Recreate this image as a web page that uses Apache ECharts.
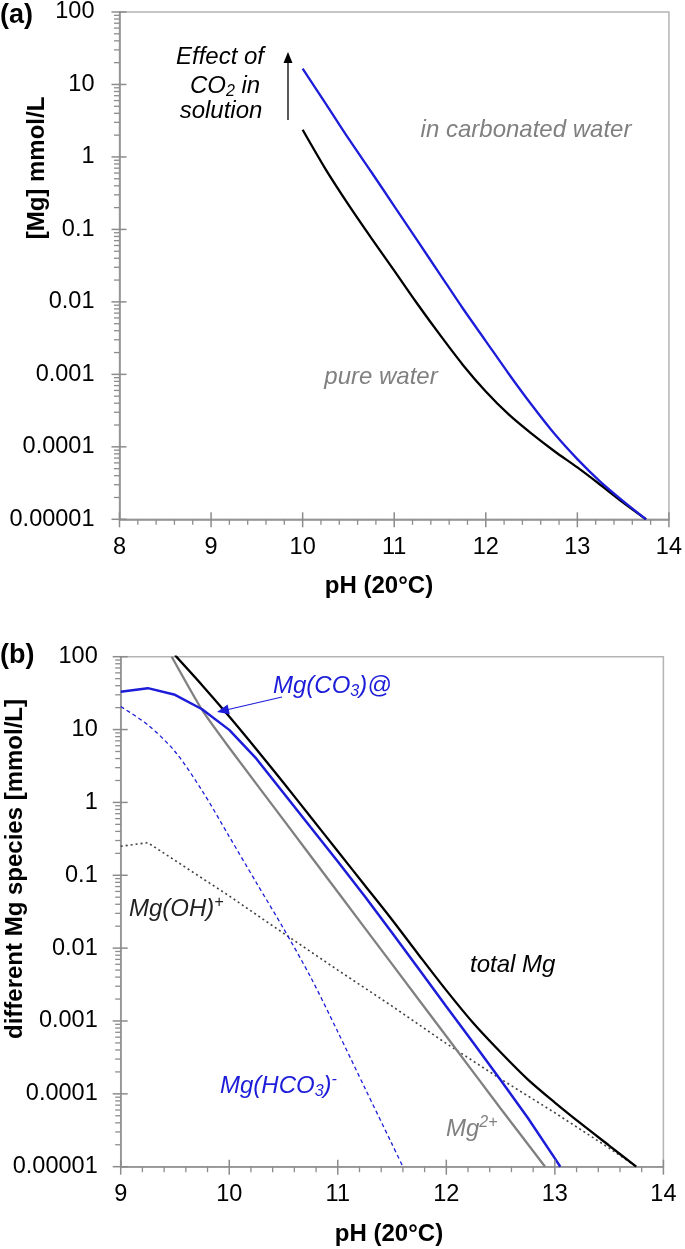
<!DOCTYPE html>
<html>
<head>
<meta charset="utf-8">
<script src="https://cdn.jsdelivr.net/npm/echarts@6/dist/echarts.min.js"></script>
<style>
html, body { margin: 0; padding: 0; background: #ffffff; }
#chart { width: 685px; height: 1249px; }
</style>
</head>
<body>
<div id="chart"></div>
<script>
// 图(a)：纯水 / 碳酸水中的 Mg 浓度
var phPure = [10, 10.25, 10.5, 10.75, 11, 11.25, 11.5, 11.75, 12, 12.25, 12.5, 12.75, 13, 13.25, 13.5, 13.75];
var mgPure = [2.37, 0.68, 0.22, 0.076, 0.027, 0.0095, 0.0035, 0.00135, 0.00058, 0.00028, 0.000152, 0.000087, 0.000052, 0.00003, 0.000017, 0.00001];
var phCarb = [10, 10.25, 10.5, 10.75, 11, 11.25, 11.5, 11.75, 12, 12.25, 12.5, 12.75, 13, 13.25, 13.5, 13.75];
var mgCarb = [16.5, 5.5, 1.8, 0.62, 0.21, 0.071, 0.024, 0.0081, 0.00288, 0.00102, 0.00038, 0.000151, 0.0000676, 0.0000331, 0.0000178, 0.00001];

// 图(b)：各种 Mg 形态
var phTotal = [9.5, 9.75, 10, 10.25, 10.5, 10.75, 11, 11.25, 11.5, 11.75, 12, 12.25, 12.5, 12.75, 13, 13.25, 13.5, 13.75];
var mgTotal = [105, 40.7, 15.1, 5.37, 1.86, 0.63, 0.214, 0.0724, 0.0245, 0.00794, 0.00263, 0.00093, 0.000372, 0.000158, 0.0000759, 0.000038, 0.0000195, 0.00001];
var phCO3 = [9, 9.25, 9.5, 9.75, 10, 10.25, 10.5, 10.75, 11, 11.25, 11.5, 11.75, 12, 12.25, 12.5, 12.75, 13, 13.05];
var mgCO3 = [33, 37, 30, 19, 9.9, 3.98, 1.35, 0.457, 0.155, 0.051, 0.0162, 0.0051, 0.00158, 0.0005, 0.000155, 0.000047, 0.000013, 0.00001];
var phMg2 = [9.47, 9.75, 10, 10.5, 11, 11.5, 12, 12.5, 12.91];
var mgMg2 = [100, 18.6, 5.62, 0.575, 0.0589, 0.00603, 0.000617, 0.000063, 0.00001];
var phOH = [9, 9.25, 9.5, 10, 10.5, 11, 11.5, 12, 12.5, 13, 13.5, 13.75];
var mgOH = [0.25, 0.28, 0.16, 0.052, 0.016, 0.005, 0.0016, 0.00049, 0.00016, 0.000055, 0.000018, 0.00001];
var phHCO3 = [9, 9.25, 9.5, 9.75, 10, 10.25, 10.5, 10.75, 11, 11.25, 11.5, 11.6];
var mgHCO3 = [20.7, 11.6, 5.0, 1.45, 0.34, 0.079, 0.0186, 0.004, 0.00071, 0.00012, 0.0000204, 0.00001];

// 刻度标签
var logTickLabels = ['0.00001', '0.0001', '0.001', '0.01', '0.1', '1', '10', '100'];
var minorMultipliers = [2, 3, 4, 5, 6, 7, 8, 9];

var fontFamily = 'Liberation Sans, Arial, sans-serif';
var axisColor = '#8c8c8c';
var frameColor = '#b4b4b4';
var blue = '#1c1cd9';
var gray = '#808080';
var yMin = 0.00001;

function pairs(xs, ys) {
    return xs.map(function (x, i) { return [x, ys[i]]; });
}

// 对数轴主刻度 10^k 与次刻度 2..9 × 10^k
function logMajorValues() {
    var out = [];
    for (var k = -5; k <= 2; k++) out.push(Math.pow(10, k));
    return out;
}
function logMinorValues() {
    var out = [];
    for (var k = -5; k < 2; k++) {
        minorMultipliers.forEach(function (m) { out.push(m * Math.pow(10, k)); });
    }
    return out;
}
// pH 轴主刻度(1) 与次刻度(0.2)
function phMajorValues(min) {
    var out = [];
    for (var v = min; v <= 14; v++) out.push(v);
    return out;
}
function phMinorValues(min) {
    var out = [];
    for (var v = min; v < 14; v++) {
        [0.2, 0.4, 0.6, 0.8].forEach(function (d) { out.push(+(v + d).toFixed(1)); });
    }
    return out;
}

function tickSeries(xIdx, yIdx, data, size, offset) {
    return {
        type: 'scatter', xAxisIndex: xIdx, yAxisIndex: yIdx, data: data,
        symbol: 'rect', symbolSize: size, symbolOffset: offset,
        clip: false, silent: true, z: 5,
        itemStyle: { color: axisColor, opacity: 1 }
    };
}

function tickSeriesFor(xIdx, yIdx, xMin) {
    return [
        tickSeries(xIdx, yIdx, logMajorValues().map(function (v) { return [xMin, v]; }), [15, 1.5], [-0.5, 0]),
        tickSeries(xIdx, yIdx, logMinorValues().map(function (v) { return [xMin, v]; }), [5.5, 1.3], [-2.75, 0]),
        tickSeries(xIdx, yIdx, phMajorValues(xMin).map(function (v) { return [v, yMin]; }), [1.5, 15], [0, 0.5]),
        tickSeries(xIdx, yIdx, phMinorValues(xMin).map(function (v) { return [v, yMin]; }), [1.3, 5.5], [0, 2.75])
    ];
}

function makeXAxis(gridIndex, min) {
    return {
        gridIndex: gridIndex, type: 'value', min: min, max: 14, interval: 1, position: 'bottom',
        axisLine: { show: true, lineStyle: { color: axisColor, width: 1.5 } },
        axisTick: { show: false },
        axisLabel: { fontSize: 23.5, color: '#000', fontFamily: fontFamily, margin: 16 },
        splitLine: { show: false }
    };
}

function makeYAxis(gridIndex, margin) {
    return {
        gridIndex: gridIndex, type: 'log', logBase: 10, min: yMin, max: 100, splitNumber: 7, position: 'left',
        axisLine: { show: true, lineStyle: { color: axisColor, width: 1.5 } },
        axisTick: { show: false },
        axisLabel: {
            fontSize: 23.5, color: '#000', fontFamily: fontFamily, margin: margin,
            formatter: function (v) {
                return logTickLabels[Math.round(Math.log10(v)) + 5];
            }
        },
        splitLine: { show: false }
    };
}

function lineSeries(xIdx, yIdx, data, color, width, type, smooth) {
    return {
        type: 'line', xAxisIndex: xIdx, yAxisIndex: yIdx, data: data,
        symbol: 'none', smooth: smooth || false, silent: true, z: 3,
        lineStyle: { color: color, width: width, type: type }
    };
}

function richPart(size, color, pad) {
    return { fontSize: size, fontStyle: 'italic', fontFamily: fontFamily, fill: color, padding: pad };
}

function richSet(color) {
    return {
        n: richPart(24, color, [0, 0, 0, 0]),
        sub: richPart(16, color, [12, 0, 0, 0]),
        sup: richPart(16, color, [0, 0, 12, 0])
    };
}

function label(x, y, text, color, align) {
    return {
        type: 'text', x: x, y: y, z: 100,
        style: {
            text: text, fill: color, fontSize: 24, fontStyle: 'italic', fontFamily: fontFamily,
            align: align || 'left', verticalAlign: 'middle', rich: richSet(color)
        }
    };
}

function boldText(x, y, text, size, rotation) {
    return {
        type: 'text', x: x, y: y, rotation: rotation || 0, z: 100,
        style: {
            text: text, fill: '#000', fontSize: size, fontWeight: 'bold', fontFamily: fontFamily,
            align: 'center', verticalAlign: 'middle'
        }
    };
}

var chart = echarts.init(document.getElementById('chart'), null, { renderer: 'canvas' });

var option = {
    backgroundColor: '#ffffff',
    animation: false,
    grid: [
        { left: 119.5, top: 11.5, width: 552.8, height: 507.8, show: true, borderColor: frameColor, borderWidth: 1.5, containLabel: false },
        { left: 120.7, top: 656.7, width: 542.7, height: 510, show: true, borderColor: frameColor, borderWidth: 1.5, containLabel: false }
    ],
    xAxis: [makeXAxis(0, 8), makeXAxis(1, 9)],
    yAxis: [makeYAxis(0, 25), makeYAxis(1, 23)],
    series: tickSeriesFor(0, 0, 8).concat(tickSeriesFor(1, 1, 9)).concat([
        lineSeries(0, 0, pairs(phPure, mgPure), '#000000', 2.3, 'solid', 0.3),
        lineSeries(0, 0, pairs(phCarb, mgCarb), blue, 2.3, 'solid', 0.3),
        lineSeries(1, 1, pairs(phOH, mgOH), '#404040', 1.6, [2, 3]),
        lineSeries(1, 1, pairs(phHCO3, mgHCO3), blue, 1.3, [4, 3], 0.3),
        lineSeries(1, 1, pairs(phMg2, mgMg2), gray, 2.3, 'solid', 0.2),
        lineSeries(1, 1, pairs(phCO3, mgCO3), blue, 2.5, 'solid'),
        lineSeries(1, 1, pairs(phTotal, mgTotal), '#000000', 2.3, 'solid', 0.3)
    ]),
    graphic: [
        // 面板编号
        { type: 'text', x: 0, y: 16, style: { text: '(a)', fontSize: 27, fontWeight: 'bold', fontFamily: fontFamily, fill: '#000', verticalAlign: 'middle' } },
        { type: 'text', x: 0, y: 656, style: { text: '(b)', fontSize: 27, fontWeight: 'bold', fontFamily: fontFamily, fill: '#000', verticalAlign: 'middle' } },
        // 坐标轴标题
        boldText(37, 168, '[Mg] mmol/L', 24, Math.PI / 2),
        boldText(379, 586, 'pH (20°C)', 24),
        boldText(15, 869, 'different Mg species [mmol/L]', 24, Math.PI / 2),
        boldText(389, 1234, 'pH (20°C)', 24),
        // (a) 注释
        label(220, 57, 'Effect of', '#000', 'center'),
        label(225, 86, '{n|CO}{sub|2}{n| in}', '#000', 'center'),
        label(221, 111, 'solution', '#000', 'center'),
        { type: 'line', z: 100, shape: { x1: 288, y1: 120, x2: 288, y2: 60 }, style: { stroke: '#000', lineWidth: 1.3 } },
        { type: 'polygon', z: 100, shape: { points: [[283.5, 63], [292.5, 63], [288, 52]] }, style: { fill: '#000' } },
        label(526, 130, 'in carbonated water', gray, 'center'),
        label(381, 377, 'pure water', gray, 'center'),
        // (b) 注释
        label(273, 686, '{n|Mg(CO}{sub|3}{n|)@}', blue),
        { type: 'line', z: 100, shape: { x1: 282, y1: 697, x2: 226, y2: 710 }, style: { stroke: blue, lineWidth: 1.2 } },
        { type: 'polygon', z: 100, shape: { points: [[217, 712], [229.8, 714.2], [227.6, 704.6]] }, style: { fill: blue } },
        label(129, 909, '{n|Mg(OH)}{sup|+}', '#222'),
        label(470, 965, 'total Mg', '#000'),
        label(220, 1086, '{n|Mg(HCO}{sub|3}{n|)}{sup|-}', blue),
        label(446, 1129, '{n|Mg}{sup|2+}', gray)
    ]
};

chart.setOption(option);
</script>
</body>
</html>
